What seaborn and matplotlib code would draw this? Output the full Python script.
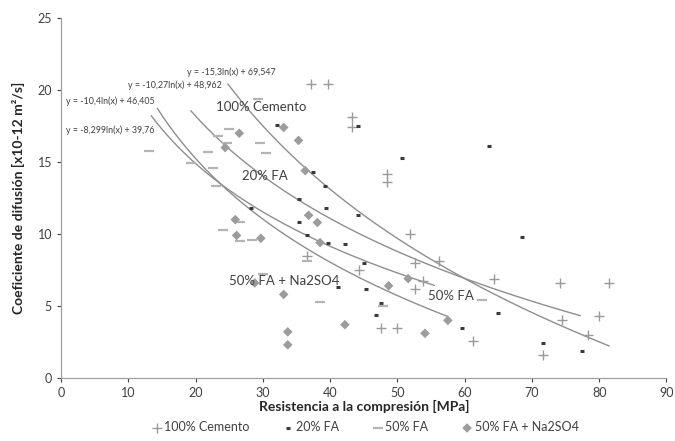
import numpy as np
import pandas as pd
import matplotlib
matplotlib.use("Agg")
import matplotlib.pyplot as plt
import seaborn as sns

# ---- data ----
cem_x = [36.6, 37.2, 39.7, 43.2, 43.2, 44.3, 47.5, 49.9, 48.4, 48.4, 51.9, 52.6, 56.2, 53.8, 52.6,
         61.3, 64.3, 74.1, 81.5, 79.9, 74.4, 78.4, 71.6]
cem_y = [8.5, 20.4, 20.4, 18.1, 17.4, 7.5, 3.5, 3.5, 14.2, 13.6, 10.0, 8.0, 8.1, 6.7, 6.2,
         2.6, 6.9, 6.6, 6.6, 4.3, 4.0, 3.0, 1.6]

fa20_x = [28.2, 32.1, 35.3, 35.4, 36.5, 37.5, 39.3, 39.4, 39.7, 41.2, 42.2, 44.1, 44.1, 45.0, 45.3,
          46.8, 47.6, 50.7, 59.6, 63.6, 65.0, 68.5, 71.6, 77.5]
fa20_y = [11.8, 17.6, 12.4, 10.8, 9.9, 14.3, 13.3, 11.8, 9.4, 6.3, 9.3, 17.5, 11.3, 8.0, 6.2,
          4.4, 5.2, 15.3, 3.5, 16.1, 4.5, 9.8, 2.4, 1.9]

fa50_x = [13.1, 19.3, 21.9, 22.6, 23.1, 23.4, 24.1, 24.6, 24.9, 26.6, 26.6, 28.4, 29.3, 29.6, 30.4,
          30.0, 36.5, 38.5, 47.9, 62.6]
fa50_y = [15.8, 14.9, 15.7, 14.6, 13.3, 16.8, 10.3, 16.3, 17.3, 10.8, 9.5, 9.6, 19.4, 16.3, 15.6,
          7.2, 8.1, 5.3, 5.0, 5.4]

na_x = [24.4, 25.9, 26.1, 26.5, 28.8, 29.7, 33.1, 33.1, 33.7, 33.7, 35.3, 36.3, 36.8, 38.1, 38.5,
        42.2, 48.7, 51.6, 54.1, 57.5]
na_y = [16.0, 11.0, 9.9, 17.0, 6.6, 9.7, 17.4, 5.8, 3.2, 2.3, 16.5, 14.4, 11.3, 10.8, 9.4,
        3.7, 6.4, 6.9, 3.1, 4.0]

series_names = ["100% Cemento", "20% FA", "50% FA", "50% FA + Na2SO4"]
# logarithmic trend lines shown on the chart: y = a*ln(x) + b
trend_a = [-15.3, -10.27, -10.4, -8.299]
trend_b = [69.547, 48.962, 46.405, 39.76]
trend_xmin = [24.8, 19.3, 14.3, 13.4]
trend_xmax = [81.5, 77.2, 57.5, 55.5]
eq_labels = ["y = -15,3ln(x) + 69,547", "y = -10,27ln(x) + 48,962",
             "y = -10,4ln(x) + 46,405", "y = -8,299ln(x) + 39,76"]

x_ticks = [0, 10, 20, 30, 40, 50, 60, 70, 80, 90]
y_ticks = [0, 5, 10, 15, 20, 25]

# ---- plotting ----
sns.set_theme(style="white")
plt.rcParams['font.family'] = ['Lato', 'DejaVu Sans']

fig = plt.figure(figsize=(6.75, 4.41), dpi=100)
ax = fig.add_axes([0.0904, 0.143, 0.897, 0.816])

df = pd.concat([
    pd.DataFrame({"x": cem_x, "y": cem_y, "s": series_names[0]}),
    pd.DataFrame({"x": fa20_x, "y": fa20_y, "s": series_names[1]}),
    pd.DataFrame({"x": fa50_x, "y": fa50_y, "s": series_names[2]}),
    pd.DataFrame({"x": na_x, "y": na_y, "s": series_names[3]}),
])

styles = {
    series_names[0]: dict(marker="+", s=45, color="#9a9a9a", linewidth=1.0),
    series_names[1]: dict(marker="_", s=9, color="#3a3a3a", linewidth=2.2),
    series_names[2]: dict(marker="_", s=55, color="#b4b4b4", linewidth=1.6),
    series_names[3]: dict(marker="D", s=24, color="#9c9c9c", linewidth=0),
}
for name in series_names:
    sub = df[df.s == name]
    st = styles[name]
    sns.scatterplot(data=sub, x="x", y="y", ax=ax, marker=st["marker"], s=st["s"],
                    color=st["color"], linewidth=st["linewidth"],
                    edgecolor=st["color"] if st["marker"] in "+_" else "none",
                    label=name, legend=False, zorder=3)

for a, b, x0, x1 in zip(trend_a, trend_b, trend_xmin, trend_xmax):
    xs = np.linspace(x0, x1, 200)
    tdf = pd.DataFrame({"x": xs, "y": a * np.log(xs) + b})
    sns.lineplot(data=tdf, x="x", y="y", ax=ax, color="#8e8e8e", linewidth=1.0,
                 zorder=2, legend=False)

if ax.get_legend() is not None:
    ax.get_legend().remove()

# series labels and equations
lab_kw = dict(fontsize=9.5, color="#404040", va="center")
ax.text(23.1, 18.8, "100% Cemento", **lab_kw)
ax.text(26.9, 14.0, "20% FA", **lab_kw)
ax.text(25.0, 6.7, "50% FA + Na2SO4", **lab_kw)
ax.text(54.6, 5.7, "50% FA", **lab_kw)
eq_kw = dict(fontsize=6.4, color="#404040", va="center")
ax.text(18.7, 21.25, eq_labels[0], **eq_kw)
ax.text(10.0, 20.35, eq_labels[1], **eq_kw)
ax.text(0.7, 19.2, eq_labels[2], **eq_kw)
ax.text(0.7, 17.2, eq_labels[3], **eq_kw)

ax.set_xlim(0, 90)
ax.set_ylim(0, 25)
ax.set_xticks(x_ticks)
ax.set_yticks(y_ticks)
ax.tick_params(axis="both", labelsize=9, colors="#404040", length=3, width=0.8,
               direction="out", bottom=True, left=True)
for sp in ["top", "right"]:
    ax.spines[sp].set_visible(False)
for sp in ["left", "bottom"]:
    ax.spines[sp].set_color("#a0a0a0")
    ax.spines[sp].set_linewidth(0.9)
ax.set_xlabel("Resistencia a la compresión [MPa]", fontsize=10, fontweight="bold",
              color="#262626", labelpad=1)
ax.set_ylabel("Coeficiente de difusión [x10-12 m²/s]", fontsize=10, fontweight="bold",
              color="#262626", labelpad=9)

handles, labels = ax.get_legend_handles_labels()
fig.legend(handles, labels, loc="lower center", bbox_to_anchor=(0.54, -0.008), ncol=4,
           frameon=False, fontsize=9, columnspacing=2.6, handletextpad=0.1,
           handlelength=1.0, labelcolor="#404040")

fig.savefig("out.png", dpi=100)
